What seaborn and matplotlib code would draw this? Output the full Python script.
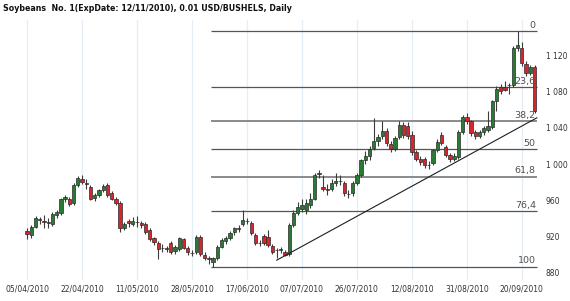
import numpy as np
import pandas as pd
import matplotlib
matplotlib.use("Agg")
import matplotlib.pyplot as plt
import seaborn as sns
from matplotlib.ticker import FuncFormatter

title = "Soybeans  No. 1(ExpDate: 12/11/2010), 0.01 USD/BUSHELS, Daily"

opens = [926, 922, 931, 939, 937, 936, 934, 944, 946, 961, 962, 957, 977, 983, 979, 975, 963, 966, 971, 977,
         968, 962, 957, 929, 937, 934, 936, 935, 934, 927, 918, 913, 907, 906, 913, 904, 906, 917, 908, 902,
         903, 920, 900, 896, 892, 896, 909, 915, 918, 925, 929, 934, 937, 935, 922, 913, 921, 920, 910, 905,
         905, 903, 901, 933, 946, 950, 949, 955, 962, 989, 975, 972, 973, 979, 981, 979, 967, 968, 979, 988,
         1004, 1009, 1018, 1025, 1031, 1036, 1022, 1017, 1030, 1043, 1042, 1032, 1013, 1006, 1006, 999, 1001, 1015, 1032, 1019,
         1010, 1006, 1008, 1035, 1052, 1047, 1035, 1031, 1035, 1037, 1041, 1069, 1085, 1085, 1087, 1087, 1128, 1128, 1110, 1100,
         1107]
highs = [929, 933, 943, 942, 944, 941, 947, 949, 963, 966, 964, 979, 987, 988, 983, 977, 968, 973, 978, 979,
         970, 964, 959, 936, 939, 942, 943, 937, 936, 929, 920, 915, 912, 910, 915, 911, 920, 919, 910, 905,
         922, 922, 903, 899, 898, 911, 918, 921, 926, 931, 933, 949, 941, 937, 924, 916, 923, 927, 912, 908,
         909, 905, 935, 949, 958, 962, 962, 968, 990, 993, 988, 978, 984, 990, 988, 981, 971, 981, 990, 1006,
         1014, 1020, 1051, 1033, 1047, 1040, 1025, 1031, 1047, 1046, 1046, 1036, 1015, 1009, 1008, 1003, 1017, 1027, 1035, 1021,
         1012, 1012, 1037, 1054, 1056, 1049, 1037, 1038, 1042, 1058, 1071, 1086, 1088, 1091, 1089, 1130, 1146, 1134, 1113, 1109,
         1109]
lows = [917, 918, 929, 934, 929, 930, 932, 941, 944, 958, 954, 955, 975, 978, 973, 960, 959, 964, 969, 964,
        960, 955, 925, 927, 931, 932, 931, 930, 923, 915, 911, 895, 903, 903, 901, 901, 904, 906, 900, 899,
        901, 899, 894, 890, 887, 894, 907, 912, 916, 922, 925, 932, 934, 922, 911, 910, 911, 909, 901, 896,
        902, 899, 899, 931, 944, 947, 945, 952, 960, 985, 970, 966, 970, 976, 977, 965, 963, 965, 977, 986,
        1000, 1004, 1015, 1020, 1028, 1020, 1013, 1014, 1028, 1029, 1028, 1010, 1003, 999, 996, 994, 999, 1013, 1021, 1008,
        1002, 1003, 1006, 1033, 1044, 1031, 1028, 1029, 1032, 1035, 1039, 1058, 1077, 1080, 1077, 1085, 1124, 1108, 1097, 1098,
        1056]
closes = [923, 931, 941, 938, 936, 935, 945, 947, 961, 964, 956, 977, 985, 980, 978, 962, 966, 971, 976, 966,
          962, 957, 929, 934, 935, 937, 936, 933, 925, 917, 914, 906, 907, 908, 903, 909, 918, 908, 903, 902,
          920, 901, 897, 895, 896, 909, 916, 918, 924, 929, 928, 938, 937, 924, 913, 913, 913, 911, 903, 905,
          906, 900, 933, 946, 953, 955, 957, 962, 988, 990, 973, 971, 979, 981, 981, 968, 967, 979, 988, 1004,
          1009, 1017, 1025, 1030, 1036, 1023, 1016, 1029, 1043, 1032, 1031, 1013, 1006, 1002, 999, 999, 1015, 1024, 1023, 1010,
          1006, 1009, 1035, 1052, 1047, 1034, 1031, 1035, 1040, 1042, 1069, 1083, 1080, 1082, 1087, 1128, 1131, 1111, 1100, 1107,
          1058]

tick_bars = [0, 13, 26, 39, 52, 65, 78, 91, 104, 117]
tick_labels = ["05/04/2010", "22/04/2010", "11/05/2010", "28/05/2010", "17/06/2010",
               "07/07/2010", "26/07/2010", "12/08/2010", "31/08/2010", "20/09/2010"]
y_ticks = [880, 920, 960, 1000, 1040, 1080, 1120]
fib_levels = [0, 23.6, 38.2, 50, 61.8, 76.4, 100]
fib_labels = ["0", "23,6", "38,2", "50", "61,8", "76,4", "100"]
trend_x = [59, 120.6]
trend_y = [894, 1051]

sns.set_theme(style="white")
plt.rcParams['font.family'] = ['DejaVu Sans']

df = pd.DataFrame({"bar": np.arange(len(closes)), "open": opens, "high": highs,
                   "low": lows, "close": closes})
n = len(df)
up = df["close"] >= df["open"]

fig = plt.figure(figsize=(5.7, 3.01), dpi=100)
ax = fig.add_axes([0.0, 0.0698, 0.9474, 0.8638])
ax.set_xlim(-6.4, 121.3)
ax.set_ylim(872.3, 1158.6)

ax.set_xticks(tick_bars)
ax.set_xticklabels(tick_labels)
ax.grid(axis="x", color="#e6eef5", lw=0.9, zorder=0)
ax.grid(axis="y", visible=False)
ax.set_axisbelow(True)

# candles
ax.vlines(df["bar"], df["low"], df["high"], color="#3c3c3c", lw=0.8, zorder=2)
heights = (df["close"] - df["open"]).to_numpy(dtype=float)
ax.bar(df["bar"], heights, bottom=df["open"], width=0.78,
       color=np.where(up, "#2a7a36", "#d3262d"), edgecolor="#2b2b2b",
       linewidth=0.5, zorder=3)

# fibonacci
hi = df["high"].max()
lo = df["low"].min()
lo_i = int(df["low"].idxmin())
for lv, lab in zip(fib_levels, fib_labels):
    p = hi - lv / 100.0 * (hi - lo)
    col = "#8a8a8a" if lv in (38.2, 61.8) else "#555555"
    lw = 1.4 if lv in (38.2, 61.8) else 0.9
    ax.hlines(p, lo_i - 0.5, n - 0.4, color=col, lw=lw, zorder=1)
    ax.text(n - 0.7, p + 1.5, lab, ha="right", va="bottom", fontsize=6.8, color="#505050", zorder=4)

sns.lineplot(x=trend_x, y=trend_y, ax=ax, color="#1e1e1e", lw=0.8, zorder=4)

ax.yaxis.tick_right()
ax.set_yticks(y_ticks)
ax.yaxis.set_major_formatter(FuncFormatter(lambda v, _: f"{v:,.0f}".replace(",", " ")))
ax.tick_params(axis="both", length=0, labelsize=5.5, colors="#333333")
ax.tick_params(axis="y", pad=4)
ax.tick_params(axis="x", pad=3)
for s in ax.spines.values():
    s.set_visible(False)
ax.set_xlabel("")
ax.set_ylabel("")

fig.text(0.006, 0.988, title, fontsize=5.7, fontweight="bold", va="top", ha="left", color="#111111")

fig.savefig("out.png", dpi=100, facecolor="white")
